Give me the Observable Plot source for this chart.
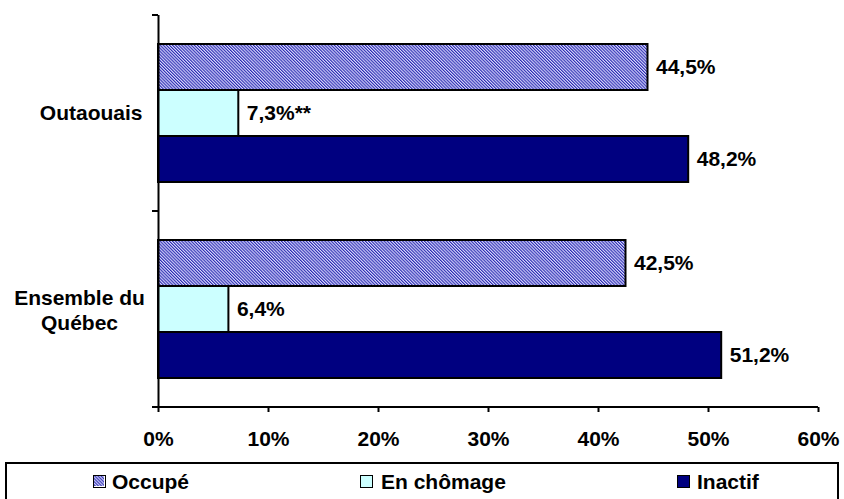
<!DOCTYPE html>
<html>
<head>
<meta charset="utf-8">
<script src="https://cdn.jsdelivr.net/npm/d3@7"></script>
<script src="https://cdn.jsdelivr.net/npm/@observablehq/plot@0.6"></script>
<style>
  html, body { margin: 0; padding: 0; background: #fff; }
  #wrap { position: relative; width: 844px; height: 499px; overflow: hidden; font-family: Arial, "Liberation Sans", sans-serif; }
  #legendBox { position: absolute; left: 5px; top: 462px; width: 834px; height: 50px; border: 2px solid #000; box-sizing: border-box; }
  .sw { position: absolute; width: 13px; height: 13px; border: 1.5px solid #000; box-sizing: border-box; }
  .lt { position: absolute; font-size: 21px; font-weight: bold; line-height: 21px; color: #000; white-space: nowrap; }
</style>
</head>
<body>
<div id="wrap"></div>
<script>
const regions = ["Outaouais", "Ensemble du Québec"];
const regionLabels = ["Outaouais", "Ensemble du\nQuébec"];
const series = ["Occupé", "En chômage", "Inactif"];
const outaouaisValues = [44.5, 7.3, 48.2];
const outaouaisNotes = ["", "**", ""];
const quebecValues = [42.5, 6.4, 51.2];
const quebecNotes = ["", "", ""];
const xTicks = [0, 10, 20, 30, 40, 50, 60];
const seriesColors = ["url(#hatch)", "#ccffff", "#000080"];

const fmt = v => v.toFixed(1).replace(".", ",") + "%";
const data = [];
[[outaouaisValues, outaouaisNotes], [quebecValues, quebecNotes]].forEach(([vals, notes], i) => {
  series.forEach((s, j) => data.push({region: regions[i], series: s, value: vals[j], label: fmt(vals[j]) + notes[j]}));
});
const labelData = regions.map((r, i) => ({region: r, label: regionLabels[i]}));
const font = {fontFamily: "Arial, 'Liberation Sans', sans-serif", fontSize: 21, fontWeight: "bold", fill: "#000"};

const chart = Plot.plot({
  width: 844,
  height: 462,
  marginLeft: 158,
  marginRight: 26,
  marginTop: 14,
  marginBottom: 55,
  style: {background: "white", color: "#000", fontFamily: "Arial, 'Liberation Sans', sans-serif"},
  x: {domain: [0, 60], label: null},
  fy: {domain: regions, padding: 0, axis: null, label: null},
  y: {domain: series, paddingInner: 0, paddingOuter: 0.6, axis: null, label: null},
  color: {domain: series, range: seriesColors},
  marks: [
    Plot.axisX({ticks: xTicks, tickFormat: d => d + "%", tickSize: 5, tickPadding: 19, strokeWidth: 2, label: null, ...font}),
    Plot.barX(data, {fy: "region", y: "series", x: "value", fill: "series", stroke: "#000", strokeWidth: 2}),
    Plot.text(data, {fy: "region", y: "series", x: "value", text: "label", textAnchor: "start", dx: 8, ...font}),
    Plot.text(labelData.filter(d => !d.label.includes("\n")), {fy: "region", text: "label", frameAnchor: "left", textAnchor: "end", dx: -16, ...font}),
    Plot.text(labelData.filter(d => d.label.includes("\n")), {fy: "region", text: "label", frameAnchor: "left", textAnchor: "middle", dx: -79, lineHeight: 1.2, ...font}),
    Plot.ruleX([0], {stroke: "#000", strokeWidth: 2})
  ]
});

// pattern + axis decorations
const svg = d3.select(chart);
const defs = svg.insert("defs", ":first-child");
const pat = defs.append("pattern").attr("id", "hatch").attr("patternUnits", "userSpaceOnUse")
  .attr("width", 2.2).attr("height", 2.2).attr("patternTransform", "rotate(-45)");
pat.append("rect").attr("width", 2.2).attr("height", 2.2).attr("fill", "#dcdcff");
pat.append("rect").attr("width", 1.1).attr("height", 2.2).attr("fill", "#2a2ab0");

const xs = chart.scale("x");
const fys = chart.scale("fy");
const x0 = xs.apply(0), x60 = xs.apply(60);
const bounds = [fys.apply(regions[0])].concat(regions.map(r => fys.apply(r) + fys.bandwidth));
const bottom = bounds[bounds.length - 1];
svg.append("line").attr("x1", x0 - 6).attr("x2", x60).attr("y1", bottom).attr("y2", bottom)
  .attr("stroke", "#000").attr("stroke-width", 2);
bounds.forEach(b => {
  svg.append("line").attr("x1", x0 - 6).attr("x2", x0).attr("y1", b).attr("y2", b)
    .attr("stroke", "#000").attr("stroke-width", 2);
});

const wrap = document.getElementById("wrap");
wrap.appendChild(chart);

// legend
const box = document.createElement("div");
box.id = "legendBox";
wrap.appendChild(box);
const legendPos = [[93, 112], [360, 381], [677, 697]];
series.forEach((s, i) => {
  const sw = document.createElement("div");
  sw.className = "sw";
  sw.style.left = legendPos[i][0] + "px";
  sw.style.top = "475px";
  if (i === 0) {
    sw.innerHTML = '<svg width="10" height="10" style="display:block"><rect width="10" height="10" fill="url(#hatch)"/></svg>';
  } else {
    sw.style.background = seriesColors[i];
  }
  wrap.appendChild(sw);
  const t = document.createElement("div");
  t.className = "lt";
  t.style.left = legendPos[i][1] + "px";
  t.style.top = "471px";
  t.textContent = s;
  wrap.appendChild(t);
});
</script>
</body>
</html>
